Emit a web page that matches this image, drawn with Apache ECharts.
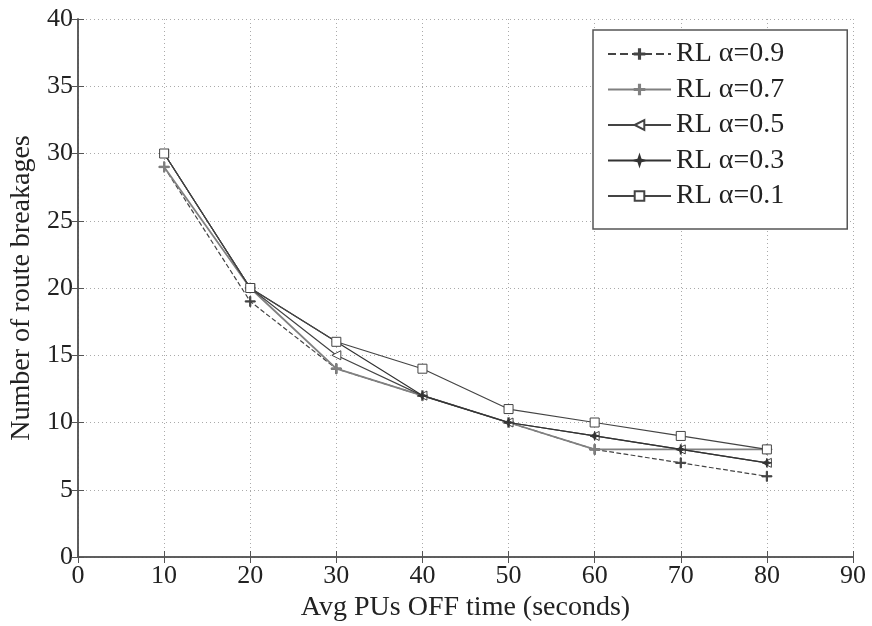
<!DOCTYPE html>
<html><head><meta charset="utf-8">
<script src="https://cdn.jsdelivr.net/npm/echarts@6/dist/echarts.min.js"></script>
<style>html,body{margin:0;padding:0;background:#fff}#c{width:872px;height:626px}</style>
</head><body><div id="c"></div>
<script>
const xValues = [10, 20, 30, 40, 50, 60, 70, 80];
const seriesNames = ['RL α=0.9', 'RL α=0.7', 'RL α=0.5', 'RL α=0.3', 'RL α=0.1'];
const a09 = [29, 19, 14, 12, 10, 8, 7, 6];
const a07 = [29, 20, 14, 12, 10, 8, 8, 8];
const a05 = [30, 20, 15, 12, 10, 9, 8, 7];
const a03 = [30, 20, 16, 12, 10, 9, 8, 7];
const a01 = [30, 20, 16, 14, 11, 10, 9, 8];
const allData = [a09, a07, a05, a03, a01];

const FONT = 'Liberation Serif';
const plus = 'path://M4.4,0h1.2v10h-1.2zM0,4.4h10v1.2h-10z';
const triLeft = 'path://M0,5L10,0L10,10Z';
const star = 'path://M5,0L6.2,3.8L10,5L6.2,6.2L5,10L3.8,6.2L0,5L3.8,3.8Z';
const styles = [
  {sym: plus, size: 10, type: 'dashed', color: '#444', width: 1.2, fill: '#444'},
  {sym: plus, size: 10, type: 'solid', color: '#808080', width: 1.8, fill: '#808080'},
  {sym: triLeft, size: 9, type: 'solid', color: '#444', width: 1.2, fill: '#fff'},
  {sym: star, size: 9, type: 'solid', color: '#333', width: 1.2, fill: '#333'},
  {sym: 'rect', size: 9, type: 'solid', color: '#444', width: 1.2, fill: '#fff'}
];
const series = seriesNames.map((n, i) => ({
  name: n, type: 'line',
  data: xValues.map((x, j) => [x, allData[i][j]]),
  symbol: styles[i].sym, symbolSize: styles[i].size,
  lineStyle: {color: styles[i].color, width: styles[i].width, type: styles[i].type},
  itemStyle: {color: styles[i].fill, borderColor: styles[i].color, borderWidth: 1},
  z: 5 + i
}));
const grid = {left: 78, right: 19, top: 19, bottom: 69, containLabel: false, outerBoundsMode: 'none'};
const axLine = {show: true, lineStyle: {color: '#555', width: 1.5}};
const tick = {show: true, inside: true, length: 6, lineStyle: {color: '#555'}};
const split = {show: true, lineStyle: {color: '#aaa', type: [1, 3], width: 1}};
const chart = echarts.init(document.getElementById('c'));
chart.setOption({
  animation: false,
  backgroundColor: '#fff',
  grid: grid,
  legend: {
    left: 593, top: 30, orient: 'vertical',
    itemWidth: 63, itemHeight: 12, itemGap: 7.5,
    padding: [10, 63, 19, 14],
    borderColor: '#555', borderWidth: 1.5, backgroundColor: '#fff',
    textStyle: {fontFamily: FONT, fontSize: 28, color: '#222'},
    data: seriesNames
  },
  xAxis: [{
    type: 'value', min: 0, max: 90, interval: 10,
    name: 'Avg PUs OFF time (seconds)', nameLocation: 'middle', nameGap: 32,
    nameTextStyle: {fontFamily: FONT, fontSize: 28, color: '#222'},
    axisLine: axLine, axisTick: tick,
    axisLabel: {fontFamily: FONT, fontSize: 26, color: '#222', margin: 6},
    splitLine: split
  }, {
    type: 'value', min: 0, max: 90, interval: 10, position: 'top',
    axisLine: axLine, axisTick: tick,
    axisLabel: {show: false}, splitLine: {show: false}
  }],
  yAxis: [{
    type: 'value', min: 0, max: 40, interval: 5,
    name: 'Number of route breakages', nameLocation: 'middle', nameGap: 42,
    nameTextStyle: {fontFamily: FONT, fontSize: 28, color: '#222'},
    axisLine: axLine, axisTick: tick,
    axisLabel: {fontFamily: FONT, fontSize: 26, color: '#222', margin: 5},
    splitLine: split
  }, {
    type: 'value', min: 0, max: 40, interval: 5, position: 'right',
    axisLine: axLine, axisTick: tick,
    axisLabel: {show: false}, splitLine: {show: false}
  }],
  series: series
});
</script></body></html>
